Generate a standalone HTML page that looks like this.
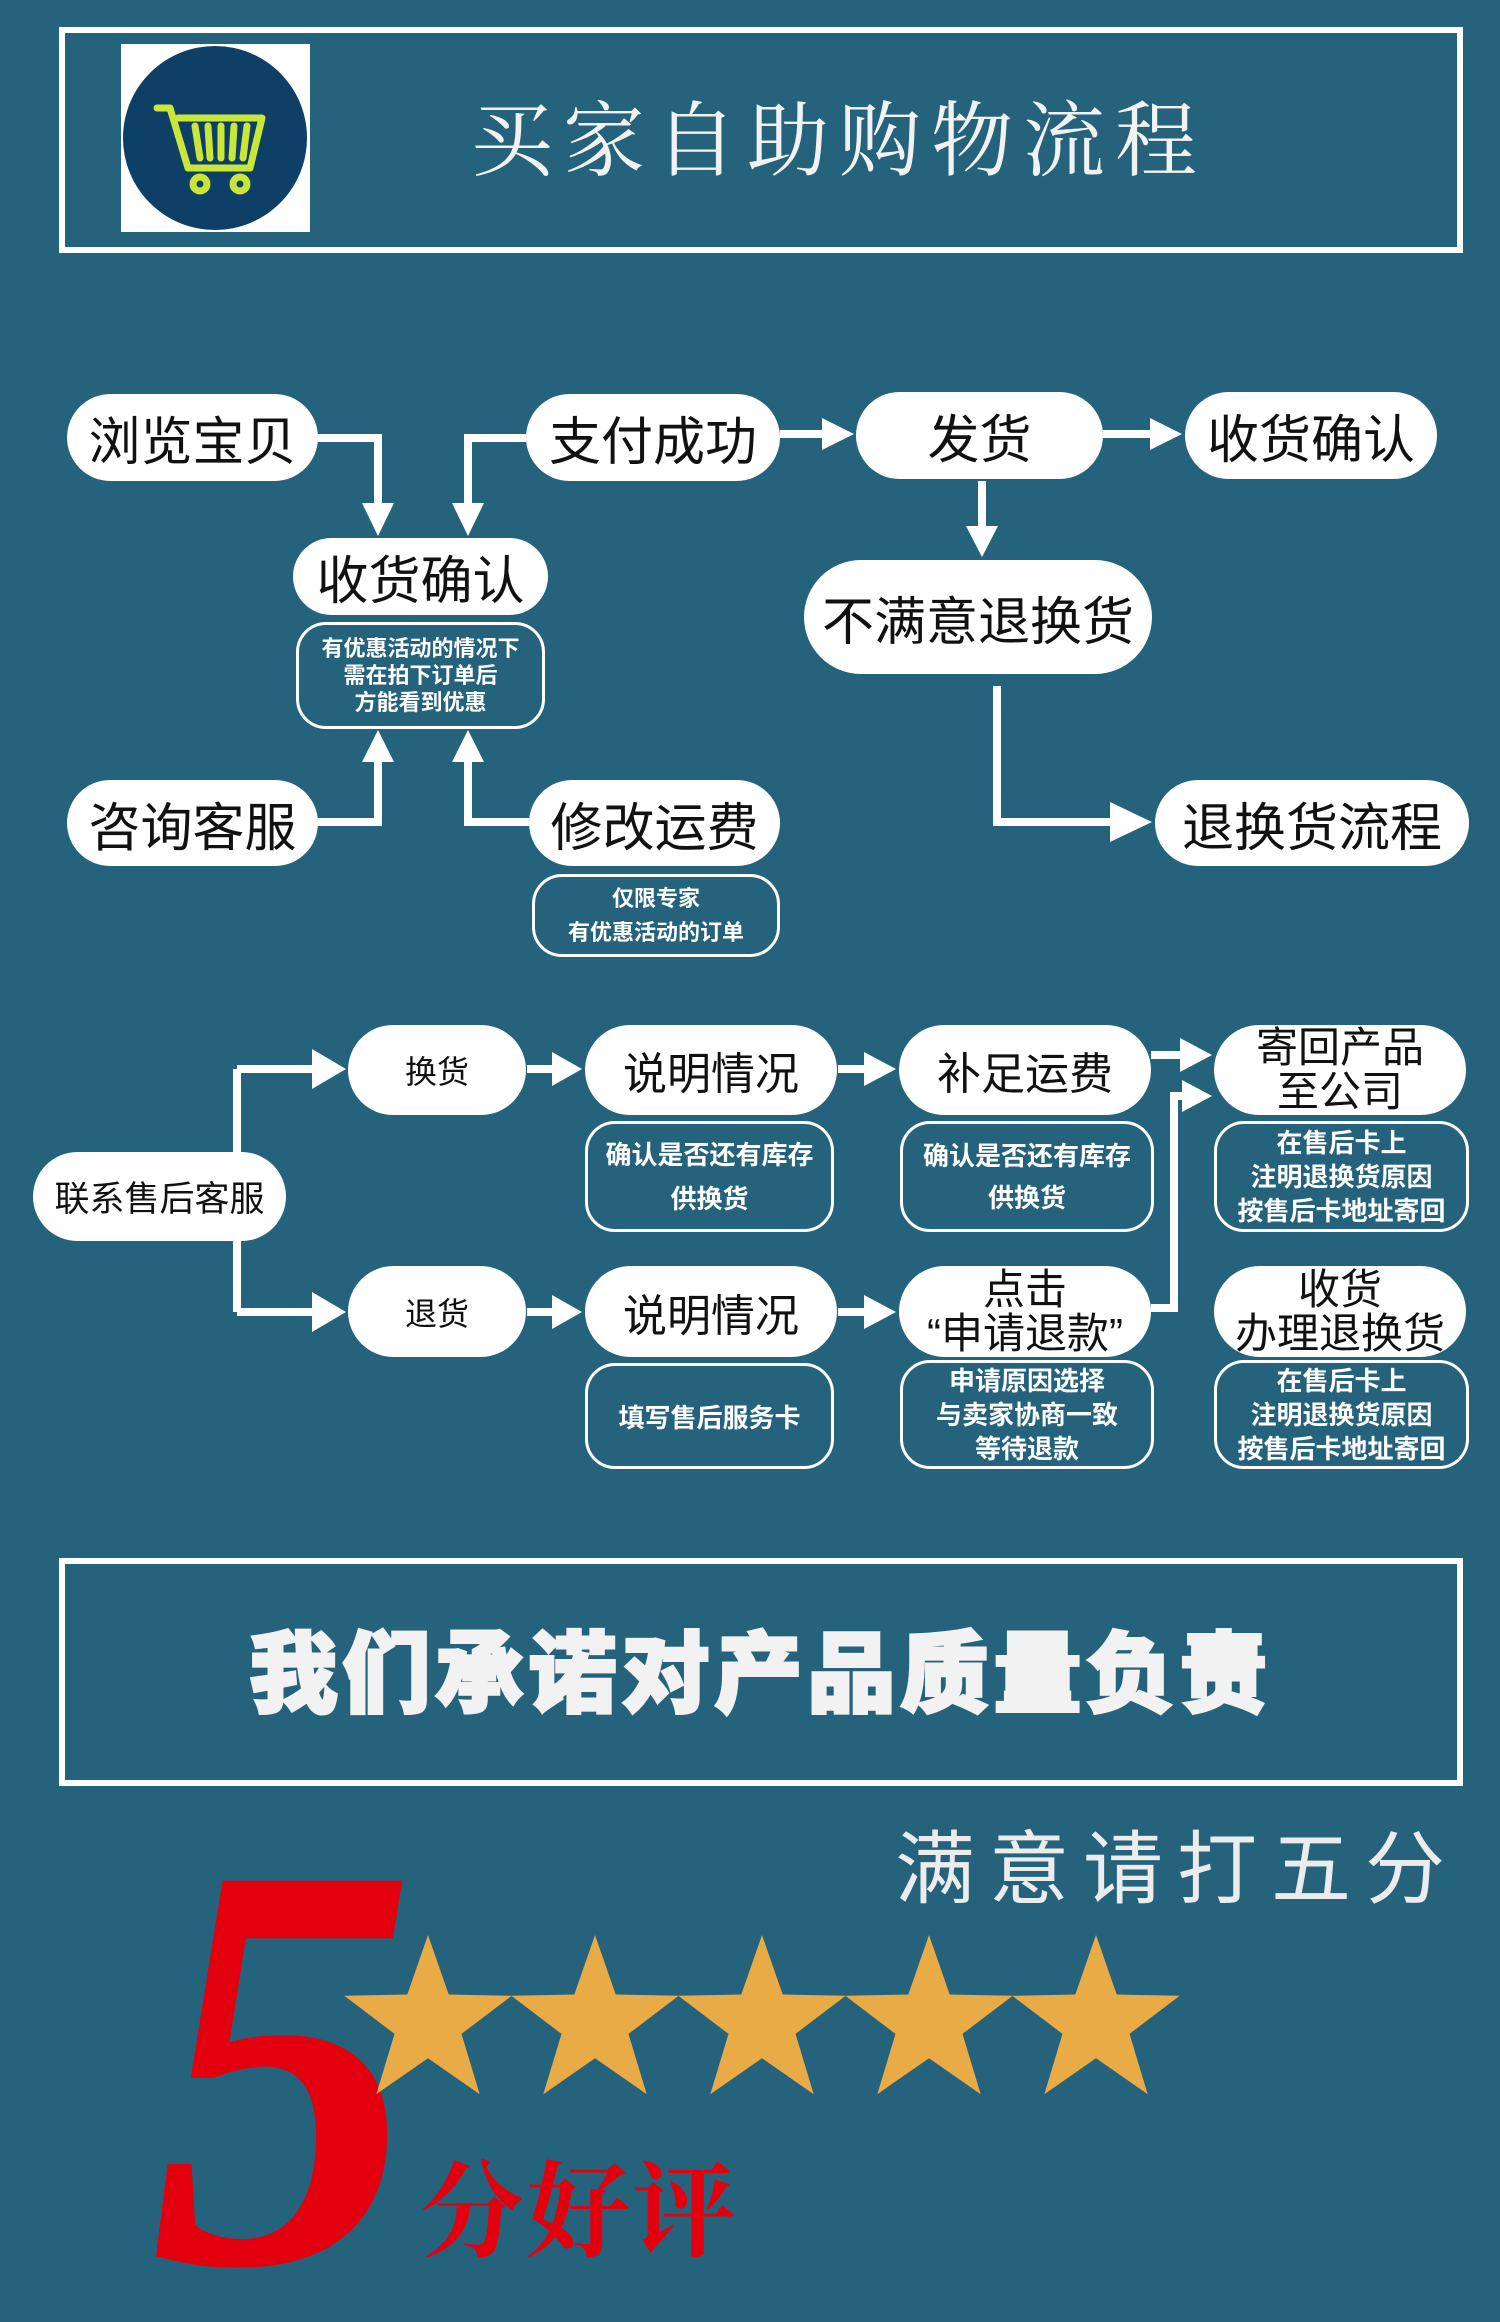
<!DOCTYPE html>
<html><head><meta charset="utf-8">
<style>
*{margin:0;padding:0;box-sizing:border-box}
body{width:1500px;height:2322px;background:#25637c;position:relative;overflow:hidden;font-family:"Liberation Sans","Noto Sans CJK SC",sans-serif}
.n{position:absolute;background:#fff;color:#111;border-radius:50px;display:flex;align-items:center;justify-content:center;text-align:center;white-space:nowrap}
.t{position:absolute;border:3px solid #fff;border-radius:30px;color:#fff;display:flex;flex-direction:column;align-items:center;justify-content:center;text-align:center;font-weight:bold;white-space:nowrap}
.box{position:absolute;border:6px solid #fff}
svg{position:absolute;left:0;top:0}
</style></head><body>
<div class="box" style="left:59px;top:27px;width:1404px;height:226px"></div>
<div style="position:absolute;left:121px;top:44px;width:189px;height:188px;background:#fff"></div>
<div style="position:absolute;left:471px;top:80px;width:760px;font-family:'Noto Serif CJK SC',serif;font-size:82px;color:#f2f2f2;letter-spacing:10px;line-height:110px">买家自助购物流程</div>

<div class="box" style="left:59px;top:1558px;width:1404px;height:228px"></div>
<div style="position:absolute;left:59px;top:1620px;width:1404px;text-align:center;font-size:88px;font-weight:900;color:#f2f2f2;letter-spacing:5px;line-height:110px;-webkit-text-stroke:3px #f2f2f2">我们承诺对产品质量负责</div>
<div style="position:absolute;left:895px;top:1815px;font-size:80px;color:#ececec;letter-spacing:14px;line-height:110px">满意请打五分</div>

<svg width="1500" height="2322" viewBox="0 0 1500 2322">
<circle cx="215" cy="138" r="92" fill="#0e3f67"/>
<g fill="none" stroke="#c9e63a" stroke-width="7" stroke-linejoin="round" stroke-linecap="round">
<path d="M157 108 L170 108 L188 168 L250 168 L262 118 L178 118"/>
<path d="M195 126 L200 158 M208 126 L210 158 M221 126 L221 158 M234 126 L232 158 M247 126 L243 158"/>
<circle cx="200" cy="184" r="7"/><circle cx="240" cy="184" r="7"/>
</g>
<g fill="none" stroke="#fff" stroke-width="8">
<path d="M318 438 H378 V505"/>
<path d="M526 438 H468 V505"/>
<path d="M780 434 H826"/>
<path d="M1103 434 H1154"/>
<path d="M982 481 V528"/>
<path d="M997 686 V822 H1120"/>
<path d="M318 822 H378 V760"/>
<path d="M529 822 H468 V760"/>
<path d="M237 1069 V1312"/>
<path d="M237 1069 H316"/><path d="M237 1312 H316"/>
<path d="M527 1069 H556"/><path d="M527 1312 H556"/>
<path d="M838 1069 H868"/><path d="M838 1312 H868"/>
<path d="M1151 1055 H1184"/>
<path d="M1151 1308 H1174 V1096 H1186"/>
</g>
<g fill="#fff">
<polygon points="362,503 394,503 378,536"/>
<polygon points="452,503 484,503 468,536"/>
<polygon points="822,418 822,450 854,434"/>
<polygon points="1150,418 1150,450 1182,434"/>
<polygon points="966,526 998,526 982,557"/>
<polygon points="1110,802 1110,842 1152,822"/>
<polygon points="362,762 394,762 378,730"/>
<polygon points="452,762 484,762 468,730"/>
<polygon points="312,1049 312,1089 346,1069"/>
<polygon points="312,1292 312,1332 346,1312"/>
<polygon points="552,1052 552,1086 582,1069"/>
<polygon points="552,1295 552,1329 582,1312"/>
<polygon points="864,1052 864,1086 896,1069"/>
<polygon points="864,1295 864,1329 896,1312"/>
<polygon points="1180,1038 1180,1072 1212,1055"/>
<polygon points="1182,1080 1182,1112 1212,1096"/>
</g>
<text x="0" y="0" transform="translate(150 2262) scale(0.95 1.04)" font-family="Liberation Serif" font-weight="bold" font-style="italic" font-size="560" fill="#e2000f">5</text>
<g fill="#e8ab45">
<polygon id="s" points="0,-88 20.7,-28.5 83.7,-27.2 33.5,10.9 51.7,71.2 0,35.2 -51.7,71.2 -33.5,10.9 -83.7,-27.2 -20.7,-28.5" transform="translate(428 2023)"/>
<use href="#s" x="167"/><use href="#s" x="334"/><use href="#s" x="501"/><use href="#s" x="668"/>
</g>
<text x="420" y="2248" font-family="Noto Serif CJK SC,serif" font-weight="bold" font-size="104" fill="#e2000f" letter-spacing="2">分好评</text>
</svg>

<div class="n" style="left:67px;top:394px;width:251px;height:87px;font-size:52px">浏览宝贝</div>
<div class="n" style="left:526px;top:394px;width:254px;height:87px;font-size:52px">支付成功</div>
<div class="n" style="left:856px;top:392px;width:247px;height:87px;font-size:52px">发货</div>
<div class="n" style="left:1185px;top:392px;width:252px;height:87px;font-size:52px">收货确认</div>
<div class="n" style="left:293px;top:538px;width:255px;height:77px;font-size:52px">收货确认</div>
<div class="t" style="left:296px;top:622px;width:249px;height:107px;font-size:22px;line-height:27px"><div>有优惠活动的情况下</div><div>需在拍下订单后</div><div>方能看到优惠</div></div>
<div class="n" style="left:804px;top:560px;width:348px;height:114px;font-size:52px;border-radius:57px">不满意退换货</div>
<div class="n" style="left:67px;top:780px;width:251px;height:86px;font-size:52px">咨询客服</div>
<div class="n" style="left:529px;top:780px;width:251px;height:86px;font-size:52px">修改运费</div>
<div class="t" style="left:532px;top:874px;width:248px;height:83px;font-size:22px;line-height:34px"><div>仅限专家</div><div>有优惠活动的订单</div></div>
<div class="n" style="left:1155px;top:780px;width:314px;height:86px;font-size:52px">退换货流程</div>

<div class="n" style="left:33px;top:1152px;width:253px;height:89px;font-size:35px">联系售后客服</div>
<div class="n" style="left:348px;top:1025px;width:178px;height:90px;font-size:32px">换货</div>
<div class="n" style="left:348px;top:1266px;width:178px;height:91px;font-size:32px">退货</div>
<div class="n" style="left:585px;top:1025px;width:252px;height:90px;font-size:44px">说明情况</div>
<div class="n" style="left:899px;top:1025px;width:252px;height:90px;font-size:44px">补足运费</div>
<div class="n" style="left:1214px;top:1025px;width:252px;height:90px;font-size:42px;flex-direction:column;line-height:44px"><div>寄回产品</div><div>至公司</div></div>
<div class="t" style="left:585px;top:1121px;width:249px;height:111px;font-size:26px;line-height:44px"><div>确认是否还有库存</div><div>供换货</div></div>
<div class="t" style="left:900px;top:1121px;width:254px;height:111px;font-size:26px;line-height:42px"><div>确认是否还有库存</div><div>供换货</div></div>
<div class="t" style="left:1214px;top:1121px;width:255px;height:111px;font-size:26px;line-height:34px"><div>在售后卡上</div><div>注明退换货原因</div><div>按售后卡地址寄回</div></div>
<div class="n" style="left:585px;top:1266px;width:252px;height:91px;font-size:44px">说明情况</div>
<div class="n" style="left:899px;top:1266px;width:252px;height:91px;font-size:42px;flex-direction:column;line-height:44px"><div>点击</div><div>“申请退款”</div></div>
<div class="n" style="left:1214px;top:1266px;width:252px;height:91px;font-size:42px;flex-direction:column;line-height:44px"><div>收货</div><div>办理退换货</div></div>
<div class="t" style="left:585px;top:1363px;width:249px;height:106px;font-size:26px"><div>填写售后服务卡</div></div>
<div class="t" style="left:900px;top:1360px;width:254px;height:109px;font-size:26px;line-height:34px"><div>申请原因选择</div><div>与卖家协商一致</div><div>等待退款</div></div>
<div class="t" style="left:1214px;top:1360px;width:255px;height:109px;font-size:26px;line-height:34px"><div>在售后卡上</div><div>注明退换货原因</div><div>按售后卡地址寄回</div></div>
</body></html>
